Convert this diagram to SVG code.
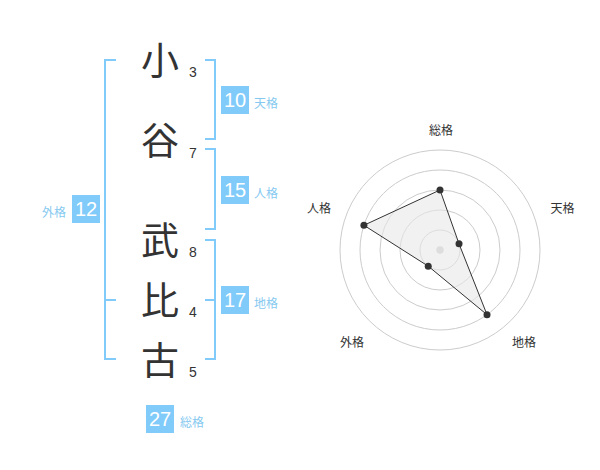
<svg xmlns="http://www.w3.org/2000/svg" width="600" height="470" viewBox="0 0 600 470">
<style>
.kanji{font-family:"Noto Sans CJK JP","Noto Sans CJK SC",sans-serif;font-size:38px;fill:#333;text-anchor:middle}
.num{font-family:"Liberation Sans",Arial,sans-serif;font-size:14px;fill:#333;text-anchor:middle}
.box{fill:#80cbfa}
.boxnum{font-family:"Liberation Sans",Arial,sans-serif;font-size:20px;fill:#fff;text-anchor:middle}
.lbl{font-family:"Noto Sans CJK JP","Noto Sans CJK SC",sans-serif;font-size:12px;fill:#86c9f0}
.br{fill:none;stroke:#80cbfa;stroke-width:2}
.ring{fill:none;stroke:#cccccc;stroke-width:1}
.rlbl{font-family:"Noto Sans CJK JP","Noto Sans CJK SC",sans-serif;font-size:12px;fill:#333;text-anchor:middle}
.dot{fill:#333}
</style>
<rect width="600" height="470" fill="#fff"/>
<g id="connectors">
<path class="br" d="M116,60 H105 V359 H116 M105,300 H116"/>
<path class="br" d="M205,60 H215 V139 H205"/>
<path class="br" d="M205,149 H215 V229 H205"/>
<path class="br" d="M205,240 H215 V359 H205 M205,300 H215"/>
</g>
<g id="name">
<g id="c1"><text class="kanji" x="160" y="73.7">小</text><text class="num" x="193" y="77">3</text></g>
<g id="c2"><text class="kanji" x="160" y="153.7">谷</text><text class="num" x="193" y="158">7</text></g>
<g id="c3"><text class="kanji" x="160" y="253.7">武</text><text class="num" x="193" y="257">8</text></g>
<g id="c4"><text class="kanji" x="160" y="313.7">比</text><text class="num" x="193" y="317">4</text></g>
<g id="c5"><text class="kanji" x="160" y="373.7">古</text><text class="num" x="193" y="377">5</text></g>
</g>
<g id="tenkaku"><rect class="box" x="221" y="86" width="28" height="28"/><text class="boxnum" x="235" y="107.2">10</text><text class="lbl" x="254" y="107.5">天格</text></g>
<g id="jinkaku"><rect class="box" x="221" y="176" width="28" height="28"/><text class="boxnum" x="235" y="197.2">15</text><text class="lbl" x="254" y="197.5">人格</text></g>
<g id="chikaku"><rect class="box" x="221" y="286" width="28" height="28"/><text class="boxnum" x="235" y="307.2">17</text><text class="lbl" x="254" y="307.5">地格</text></g>
<g id="gaikaku"><rect class="box" x="72" y="195" width="28" height="28"/><text class="boxnum" x="86" y="216.2">12</text><text class="lbl" x="66" y="216.5" text-anchor="end">外格</text></g>
<g id="soukaku"><rect class="box" x="146" y="405" width="28" height="28"/><text class="boxnum" x="160" y="426.2">27</text><text class="lbl" x="180" y="426.5">総格</text></g>
<g id="radar">
<circle class="ring" cx="440" cy="250" r="20"/>
<circle class="ring" cx="440" cy="250" r="40"/>
<circle class="ring" cx="440" cy="250" r="60"/>
<circle class="ring" cx="440" cy="250" r="80"/>
<circle class="ring" cx="440" cy="250" r="100"/>
<circle cx="440" cy="250" r="3.7" fill="#cccccc"/>
<polygon points="440,190 459.02,243.82 487.02,314.72 428.24,266.18 363.92,225.28" fill="#e8e8e8" fill-opacity="0.6" stroke="#333" stroke-width="1"/>
<circle class="dot" cx="440" cy="190" r="3.5"/>
<circle class="dot" cx="459.02" cy="243.82" r="3.5"/>
<circle class="dot" cx="487.02" cy="314.72" r="3.5"/>
<circle class="dot" cx="428.24" cy="266.18" r="3.5"/>
<circle class="dot" cx="363.92" cy="225.28" r="3.5"/>
<text class="rlbl" x="441" y="135">総格</text>
<text class="rlbl" x="562.5" y="213.3">天格</text>
<text class="rlbl" x="524" y="346.6">地格</text>
<text class="rlbl" x="352" y="347">外格</text>
<text class="rlbl" x="319" y="213.3">人格</text>
</g>
</svg>
